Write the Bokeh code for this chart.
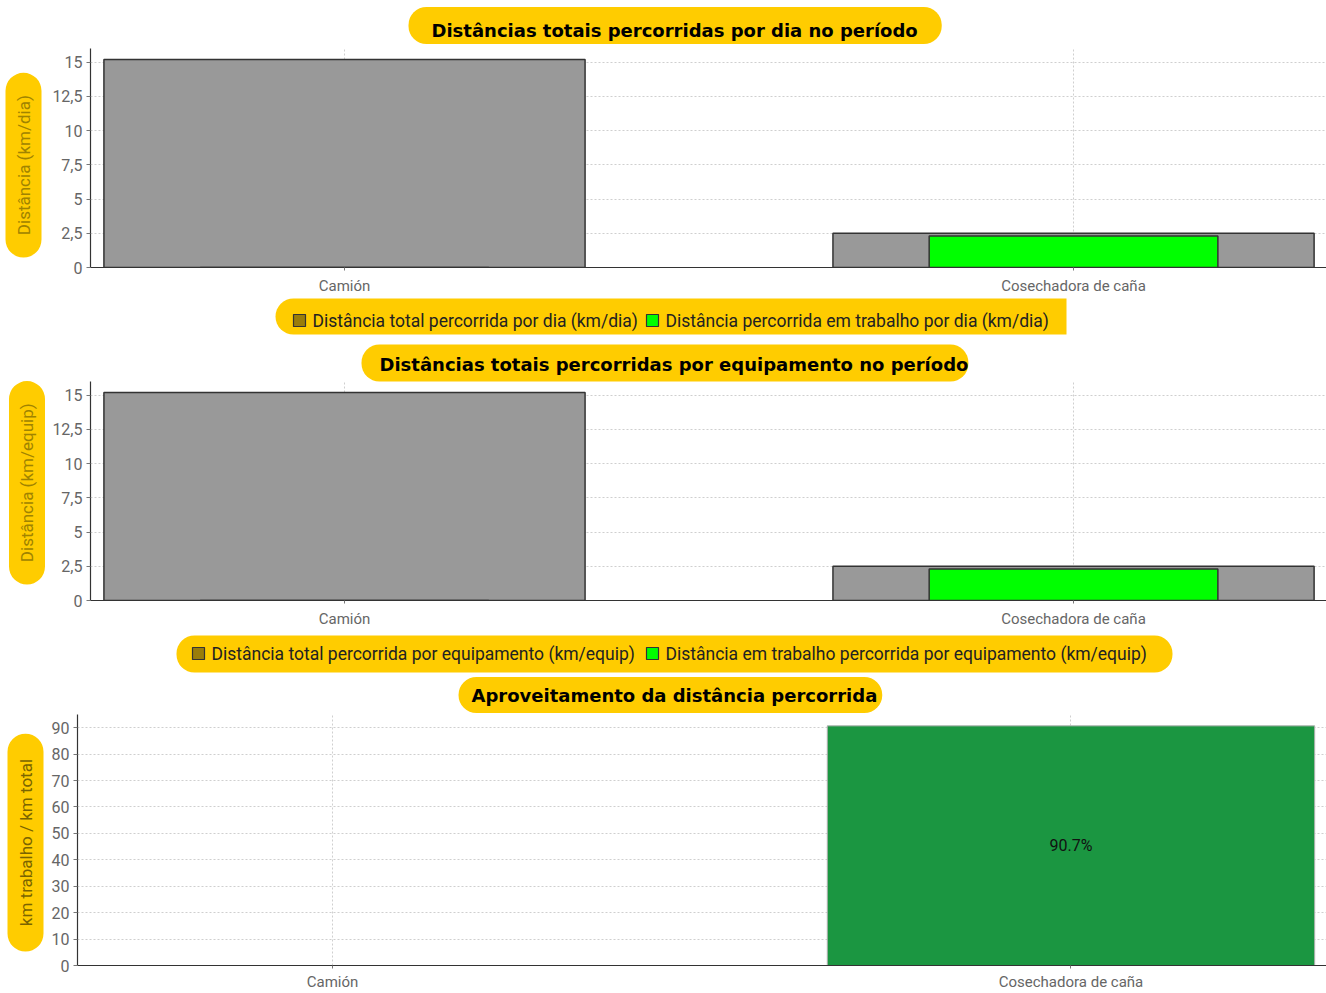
import math
from bokeh.plotting import figure
from bokeh.layouts import column
from bokeh.models import Range1d, FixedTicker, Title, BoxAnnotation
from bokeh.embed import file_html
from bokeh.resources import INLINE
from bokeh.core.properties import value

# ---------------- data ----------------
categories = ["Camión", "Cosechadora de caña"]
dist_total_dia = [15.2, 2.5]
dist_trab_dia = [0.0, 2.3]
dist_total_equip = [15.2, 2.5]
dist_trab_equip = [0.0, 2.3]
aproveitamento = [float("nan"), 90.7]

y_ticks_km = [0, 2.5, 5, 7.5, 10, 12.5, 15]
y_labels_km = ["0", "2,5", "5", "7,5", "10", "12,5", "15"]
y_ticks_pct = [0, 10, 20, 30, 40, 50, 60, 70, 80, 90]
y_labels_pct = ["0", "10", "20", "30", "40", "50", "60", "70", "80", "90"]

titles = ["Distâncias totais percorridas por dia no período",
          "Distâncias totais percorridas por equipamento no período",
          "Aproveitamento da distância percorrida"]
y_titles = ["Distância (km/dia)", "Distância (km/equip)", "km trabalho / km total"]
legend1 = ["Distância total percorrida por dia (km/dia)",
           "Distância percorrida em trabalho por dia (km/dia)"]
legend2 = ["Distância total percorrida por equipamento (km/equip)",
           "Distância em trabalho percorrida por equipamento (km/equip)"]

# ---------------- styling ----------------
PILL = "#ffcc00"
FONT = "Roboto"
TFONT = "DejaVu Sans"
TOTAL_SWATCH = "#9a7d0a"
WORK_COLOR = "#00ff00"
GRAY_BAR = "#999999"
RATIO_COLOR = "#1b9641"
EM = "\u2003"
W = 1326
xs = list(range(len(categories)))


def set_padding(obj, top, right, bottom, left):
    for val in (dict(top=top, right=right, bottom=bottom, left=left),
                (top, right, bottom, left)):
        try:
            obj.padding = val
            return
        except Exception:
            pass


def set_radius(obj, r):
    try:
        obj.border_radius = r
    except Exception:
        pass


def make_fig(height, mbl, mbt, mbb, xr, yr, yticks, ylabels, x_standoff):
    p = figure(width=W, height=height, x_range=Range1d(*xr), y_range=Range1d(*yr),
               output_backend="svg", toolbar_location=None,
               min_border_left=mbl, min_border_right=0, min_border_top=mbt,
               min_border_bottom=mbb)
    p.outline_line_color = None
    p.background_fill_color = "white"
    p.border_fill_color = "white"
    p.xaxis.ticker = FixedTicker(ticks=xs)
    p.xaxis.major_label_overrides = {i: c for i, c in enumerate(categories)}
    p.yaxis.ticker = FixedTicker(ticks=yticks)
    p.yaxis.major_label_overrides = {t: l for t, l in zip(yticks, ylabels)}
    for ax in (p.xaxis, p.yaxis):
        ax.axis_line_color = "#333333"
        ax.axis_line_width = 1.2
        ax.major_tick_line_color = "#777777"
        ax.minor_tick_line_color = None
        ax.major_tick_in = 0
        ax.major_label_text_font = FONT
        ax.major_label_text_color = "#666666"
    p.xaxis.major_label_text_font_size = "15px"
    p.yaxis.major_label_text_font_size = "16px"
    p.xaxis.major_tick_out = 3
    p.xaxis.major_label_standoff = x_standoff
    p.yaxis.major_tick_out = 4
    p.yaxis.major_label_standoff = 4
    p.grid.grid_line_color = "#cfcfcf"
    p.grid.grid_line_dash = "2 2"
    p.grid.grid_line_width = 1
    return p


def add_title(p, text, offset, standoff, pad_t, pad_b, pad_l, pad_r):
    t = Title(text=text, align="left", offset=offset, standoff=standoff,
              text_font=TFONT, text_font_size="18px", text_font_style="bold",
              text_color="#000000", background_fill_color=PILL, background_fill_alpha=1.0,
              border_line_color=None)
    set_padding(t, pad_t, pad_r, pad_b, pad_l)
    set_radius(t, 18)
    p.add_layout(t, "above")


def add_ytitle(p, text, color, standoff, offset, pad_along):
    t = Title(text=EM + text + EM, align="left", offset=offset, standoff=standoff,
              text_font=FONT, text_font_size="17px", text_font_style="normal",
              text_color=color, background_fill_color=PILL, background_fill_alpha=1.0,
              border_line_color=None)
    set_padding(t, 8, pad_along, 8, pad_along)
    set_radius(t, 18)
    p.add_layout(t, "left")


def legend_fig(top, height, pill, radius, sw_x, sw_y, labels, text_x):
    """A strip holding one legend; its data space equals page pixels (y = distance up from strip bottom)."""
    bottom = top + height
    p = figure(width=W, height=height, x_range=Range1d(90, W), y_range=Range1d(0, height),
               output_backend="svg", toolbar_location=None, x_axis_location=None,
               y_axis_location=None, min_border_left=90, min_border_right=0,
               min_border_top=0, min_border_bottom=0)
    p.outline_line_color = None
    p.grid.visible = False
    p.background_fill_color = None
    p.border_fill_color = None
    x0, y0, x1, y1 = pill
    b = BoxAnnotation(left=x0, right=x1, top=bottom - y0, bottom=bottom - y1,
                      fill_color=PILL, fill_alpha=1.0, line_color=None, level="underlay")
    set_radius(b, radius)
    p.add_layout(b)
    cy = bottom - (sw_y[0] + sw_y[1]) / 2
    p.quad(left=[sw_x[0], sw_x[2]], right=[sw_x[1], sw_x[3]],
           top=[bottom - sw_y[0]] * 2, bottom=[bottom - sw_y[1]] * 2,
           fill_color=[TOTAL_SWATCH, WORK_COLOR], line_color="#333333", line_width=1.2)
    p.text(x=text_x, y=[cy, cy], text=labels, text_font=value(FONT),
           text_font_size=value("17.5px"), text_color="#222222",
           text_align="left", text_baseline="middle")
    return p


# ---------------- chart 1 ----------------
p1 = make_fig(297, 90, 48, 29, (-0.3484, 1.347), (0, 16), y_ticks_km, y_labels_km, 6)
p1.vbar(x=xs, top=dist_total_dia, width=0.66, fill_color=GRAY_BAR, line_color="#333333", line_width=1.5)
p1.vbar(x=xs, top=dist_trab_dia, width=0.396, fill_color=WORK_COLOR, line_color="#333333", line_width=1.5)
add_title(p1, titles[0], 318, 9, 13, 3, 23, 24)
add_ytitle(p1, y_titles[0], "#a08300", 16, 10, 5)

leg1 = legend_fig(297, 43, (275, 298, 1066, 334), (18, 0, 0, 18),
                  (293, 305, 646, 658), (314, 326), legend1, [312, 665])

# ---------------- chart 2 ----------------
p2 = make_fig(290, 90, 41, 29, (-0.3484, 1.347), (0, 16), y_ticks_km, y_labels_km, 6)
p2.vbar(x=xs, top=dist_total_equip, width=0.66, fill_color=GRAY_BAR, line_color="#333333", line_width=1.5)
p2.vbar(x=xs, top=dist_trab_equip, width=0.396, fill_color=WORK_COLOR, line_color="#333333", line_width=1.5)
add_title(p2, titles[1], 271, 0, 9, 7, 18, 0)
add_ytitle(p2, y_titles[1], "#a08300", 9, 16, 5)

leg2 = legend_fig(630, 43, (176, 635, 1172, 672), 18,
                  (192, 204, 646, 658), (647, 659), legend2, [211, 665])

# ---------------- chart 3 ----------------
p3 = make_fig(320, 77, 41, 28, (-0.3453, 1.346), (0, 95), y_ticks_pct, y_labels_pct, 4)
p3.vbar(x=xs, top=aproveitamento, width=0.66, fill_color=RATIO_COLOR, line_color="#b0b0b0", line_width=1)
lab_x = [x for x, v in zip(xs, aproveitamento) if not math.isnan(v)]
lab_y = [v / 2 for v in aproveitamento if not math.isnan(v)]
lab_t = [f"{v:.1f}%" for v in aproveitamento if not math.isnan(v)]
p3.text(x=lab_x, y=lab_y, text=lab_t, text_font=value(FONT), text_font_size=value("16px"),
        text_align="center", text_baseline="middle", text_color="#111111")
add_title(p3, titles[2], 381, 3, 8, 7, 13, 5)
add_ytitle(p3, y_titles[2], "#7a6400", 10, 14, 8)

layout = column(column(p1, leg1, p2, leg2, spacing=0), column(p3, spacing=0), spacing=0)
open("out.html", "w").write(file_html(layout, INLINE))
